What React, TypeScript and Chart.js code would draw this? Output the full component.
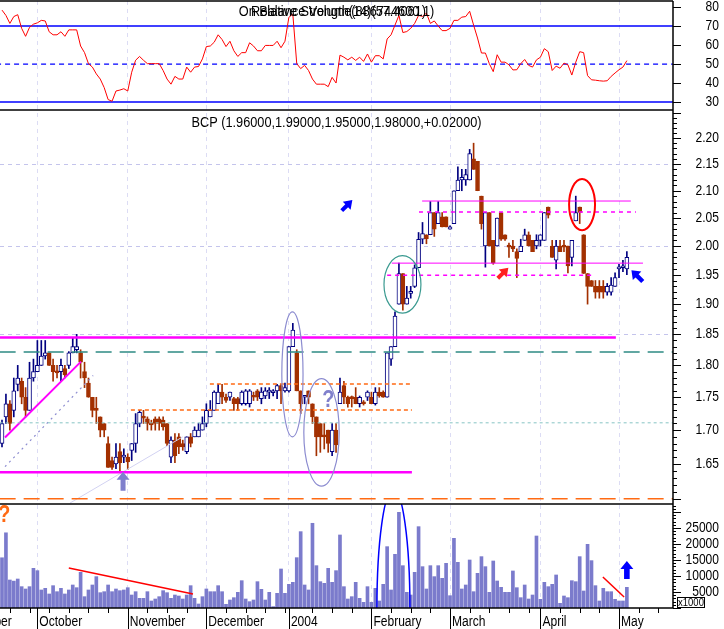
import React, { useEffect, useRef } from "react";
import { Chart, registerables } from "chart.js";
Chart.register(...registerables);

// ---------- data (one entry per trading day, index 0 = late Sept 2003) ----------
const opens = [1.68,1.72,1.74,1.73,1.77,1.775,1.75,1.73,1.78,1.79,
 1.80,1.815,1.82,1.80,1.79,1.79,1.795,1.80,1.82,1.825,
 1.82,1.79,1.772,1.75,1.732,1.72,1.71,1.68,1.655,1.65,
 1.668,1.66,1.66,1.67,1.68,1.71,1.72,1.717,1.71,1.717,
 1.717,1.715,1.71,1.66,1.685,1.69,1.68,1.668,1.69,1.69,
 1.69,1.70,1.71,1.72,1.73,1.74,1.758,1.75,1.75,1.748,
 1.748,1.74,1.74,1.74,1.752,1.76,1.748,1.752,1.758,1.757,
 1.76,1.768,1.76,1.76,1.83,1.82,1.76,1.75,1.76,1.74,
 1.72,1.71,1.692,1.70,1.668,1.70,1.74,1.768,1.75,1.75,
 1.75,1.74,1.742,1.75,1.75,1.74,1.758,1.758,1.75,1.81,
 1.83,1.90,1.952,1.90,1.918,1.93,1.962,2.012,2.02,2.02,
 2.06,2.04,2.052,2.052,2.03,2.04,2.10,2.12,2.12,2.12,
 2.16,2.155,2.09,2.00,2.06,2.01,2.00,2.06,2.02,2.00,
 2.00,1.99,1.99,2.01,2.02,2.01,2.00,2.01,2.01,2.07,
 2.00,1.975,2.00,2.00,2.00,1.98,2.045,2.07,2.02,1.952,
 1.94,1.93,1.93,1.93,1.92,1.92,1.93,1.96,1.962,1.96];
const highs = [1.715,1.755,1.745,1.78,1.80,1.78,1.765,1.805,1.81,1.84,
 1.84,1.84,1.82,1.81,1.80,1.81,1.80,1.822,1.845,1.85,
 1.825,1.805,1.78,1.75,1.75,1.72,1.71,1.69,1.66,1.68,
 1.68,1.672,1.665,1.68,1.725,1.73,1.73,1.72,1.715,1.72,
 1.72,1.72,1.71,1.69,1.695,1.695,1.685,1.69,1.695,1.705,
 1.71,1.72,1.74,1.745,1.76,1.77,1.77,1.755,1.758,1.75,
 1.75,1.76,1.762,1.762,1.758,1.762,1.765,1.765,1.765,1.762,
 1.77,1.77,1.772,1.83,1.868,1.825,1.76,1.752,1.76,1.74,
 1.72,1.71,1.71,1.70,1.71,1.71,1.78,1.775,1.752,1.752,
 1.765,1.752,1.745,1.76,1.758,1.765,1.765,1.76,1.82,1.83,
 1.887,1.97,1.952,1.93,1.93,1.967,2.024,2.042,2.02,2.08,
 2.06,2.08,2.06,2.052,2.036,2.10,2.145,2.14,2.14,2.178,
 2.19,2.155,2.09,2.06,2.06,2.01,2.05,2.06,2.02,2.005,
 2.01,1.995,2.012,2.03,2.025,2.01,2.02,2.02,2.06,2.07,
 2.01,2.01,2.01,2.01,2.00,2.01,2.09,2.07,2.02,1.952,
 1.94,1.94,1.94,1.94,1.935,1.945,1.953,1.968,1.975,1.99];
const lows = [1.675,1.71,1.70,1.72,1.76,1.74,1.72,1.73,1.775,1.79,
 1.80,1.81,1.80,1.775,1.78,1.775,1.78,1.795,1.82,1.82,
 1.78,1.765,1.75,1.72,1.71,1.69,1.69,1.645,1.642,1.643,
 1.64,1.652,1.642,1.655,1.667,1.705,1.71,1.70,1.70,1.70,
 1.70,1.70,1.677,1.652,1.652,1.665,1.67,1.665,1.675,1.69,
 1.69,1.70,1.705,1.72,1.73,1.74,1.74,1.742,1.745,1.73,
 1.73,1.738,1.738,1.735,1.745,1.745,1.74,1.748,1.748,1.752,
 1.748,1.74,1.758,1.758,1.83,1.76,1.725,1.74,1.74,1.71,
 1.662,1.667,1.672,1.667,1.662,1.667,1.74,1.74,1.735,1.735,
 1.74,1.735,1.738,1.745,1.74,1.738,1.75,1.75,1.75,1.80,
 1.83,1.90,1.89,1.90,1.91,1.928,1.962,2.004,2.004,2.02,
 2.017,2.04,2.034,2.034,2.03,2.04,2.10,2.10,2.11,2.12,
 2.14,2.10,2.03,1.963,2.00,1.968,2.00,2.01,2.01,1.98,
 1.99,1.945,1.99,2.01,2.00,1.99,1.995,2.00,2.01,2.05,
 1.98,1.96,1.99,1.99,1.953,1.965,2.045,2.04,1.952,1.90,
 1.93,1.91,1.91,1.91,1.915,1.915,1.93,1.945,1.955,1.95];
const closes = [1.71,1.74,1.71,1.76,1.78,1.75,1.73,1.78,1.79,1.80,
 1.815,1.82,1.80,1.79,1.788,1.80,1.785,1.82,1.83,1.83,
 1.805,1.78,1.75,1.73,1.73,1.70,1.70,1.645,1.645,1.66,
 1.652,1.663,1.653,1.68,1.71,1.727,1.718,1.71,1.708,1.71,
 1.71,1.705,1.68,1.685,1.662,1.675,1.675,1.69,1.68,1.70,
 1.70,1.71,1.73,1.73,1.758,1.758,1.75,1.745,1.758,1.74,
 1.74,1.758,1.76,1.76,1.75,1.75,1.758,1.76,1.76,1.76,
 1.768,1.76,1.765,1.83,1.857,1.76,1.74,1.752,1.75,1.72,
 1.69,1.69,1.69,1.68,1.70,1.678,1.758,1.75,1.74,1.748,
 1.74,1.75,1.74,1.758,1.74,1.758,1.752,1.75,1.82,1.83,
 1.88,1.952,1.90,1.91,1.92,1.962,2.012,2.022,2.013,2.06,
 2.03,2.06,2.034,2.034,2.034,2.10,2.12,2.125,2.13,2.17,
 2.14,2.10,2.04,2.06,2.00,1.97,2.05,2.012,2.012,1.998,
 1.995,1.978,2.00,2.02,2.00,1.99,2.01,2.02,2.06,2.055,
 1.98,2.00,1.99,1.998,1.965,2.01,2.06,2.06,1.952,1.93,
 1.93,1.92,1.92,1.92,1.93,1.932,1.945,1.962,1.963,1.98];
const volumes = [15700,23500,8750,8400,9060,6670,5940,6670,12400,11670,
 5630,6150,4380,6980,5100,6150,4380,5630,7190,6350,
 11150,3540,5630,7190,9800,4790,5100,7190,5100,5940,
 5420,5630,6350,4060,5100,3020,3020,5100,2190,2810,
 3540,5420,4790,3020,4060,3750,2810,4060,6980,3020,
 1250,3540,5940,5100,5100,6980,5100,1150,2500,3230,
 4900,8540,2810,1980,2500,8230,5830,2500,4900,420,
 4580,12190,4580,7400,8020,15730,23860,7190,5630,26470,
 13230,8230,7710,12400,8020,11670,22820,6670,2810,3540,
 8020,3020,1770,6670,1770,6150,2190,7400,19170,5630,
 16770,29900,13230,4900,4060,11150,25420,12920,5940,13230,
 9800,13230,9270,13960,3850,21780,14270,5940,7190,15000,
 5100,10840,16050,12920,4900,14690,8440,6460,4900,4900,
 11570,6350,3230,7190,2810,4060,22500,2710,8020,6670,
 7400,10320,1460,3750,3230,8540,8230,16050,5310,19900,
 14800,6980,2190,6150,5100,5100,2710,2190,2190,6460];
const rsi = [78.4,75.6,71.4,75,76,68.8,64.6,69.3,71,71.7,
 73,72.7,67,65.4,65.4,67,64.6,68,68,68,
 59.5,56,50.2,48.4,44.8,42.1,37.6,31.3,30.4,35.8,
 36.3,37,35.8,45.7,52,54,52,50.2,50.2,50.2,
 50.2,46.6,42.1,39.4,43.5,42.1,42.1,48.4,45.7,48.4,
 48.7,52.7,59.2,59.5,61.5,65.4,62.9,59.2,62,57,
 54,56,56,61.2,59.5,57,57,59.8,59.8,59.8,
 62,58.6,62,74.6,76.3,50.2,47.6,49.3,46.6,42.1,
 39.4,39.4,39.4,38.1,43,40,54.7,53.6,52.2,53.6,
 51.9,53.6,51.4,55.3,51,54.4,54.4,52.7,63.2,65.4,
 70.5,75.6,66.6,67.1,68.8,71.4,75.6,75.1,76.8,71.4,
 72.7,70,67.6,67.6,68.8,73,73,74.7,75,77.8,
 70.5,63.7,55.8,55.8,50.2,46,54.9,51,51,49.6,
 46.9,47,50.2,52.4,49.3,48.4,52.2,53.6,58.1,56.5,
 46.6,48.9,47.8,50.5,49.6,44.2,51,56.5,56,43.9,
 41.7,41.5,41.2,41,41.2,43.5,45.3,47,48.4,51.8];

const monthStarts = [-13, 9, 32, 52, 73, 94, 114, 137, 157];
const monthLabels = ["September", "October", "November", "December", "2004", "February", "March", "April", "May"];
const weekTicks = [2,7,12,17,22,27,37,42,47,57,62,67,72,79,84,89,99,104,109,119,124,129,134,142,147,152,162,167];
const rsiTicks = [30, 40, 50, 60, 70, 80];
const rsiLevels = [70, 50, 30];
const priceLabelTicks = [1.65,1.70,1.75,1.80,1.85,1.90,1.95,2.00,2.05,2.10,2.15,2.20];
const priceGrid = [1.85, 2.00, 2.15];
const volLabelTicks = [5000, 10000, 15000, 20000, 25000];
const priceTitle = "BCP (1.96000,1.99000,1.95000,1.98000,+0.02000)";
const rsiTitleA = "On Balance Volume(886744600.1)";
const rsiTitleB = "Relative Strength(14)(57.4061)";

// ---------- drawn annotations, in data units ----------
const overlayLines = [
  { axis: "yPrice", pts: [[-0.6, 1.8215], [171, 1.8215]], color: "#2e8b84", width: 1.5, dash: [16, 8] },
  { axis: "yPrice", pts: [[-0.6, 1.711], [171, 1.711]], color: "#86c4c4", width: 1, dash: [3, 3] },
  { axis: "yPrice", pts: [[-0.6, 1.600], [171, 1.600]], color: "#ff6a13", width: 1.5, dash: [16, 8] },
  { axis: "yPrice", pts: [[52.9, 1.7707], [104.3, 1.7707]], color: "#ff6a13", width: 1.5, dash: [4, 3] },
  { axis: "yPrice", pts: [[32.8, 1.7305], [104.3, 1.7305]], color: "#ff6a13", width: 1.5, dash: [4, 3] },
  { axis: "yPrice", pts: [[-0.6, 1.845], [156.2, 1.845]], color: "#ff00ff", width: 2.5, dash: [] },
  { axis: "yPrice", pts: [[-0.6, 1.638], [104.3, 1.638]], color: "#ff00ff", width: 2.5, dash: [] },
  { axis: "yPrice", pts: [[0.76, 1.689], [20.1, 1.806]], color: "#ff00ff", width: 2, dash: [] },
  { axis: "yPrice", pts: [[0.76, 1.646], [23.2, 1.784]], color: "#8c8cd0", width: 1.2, dash: [2, 4] },
  { axis: "yPrice", pts: [[17.3, 1.594], [46.0, 1.690]], color: "#d2d2f2", width: 1, dash: [] },
  { axis: "yPrice", pts: [[106.9, 2.081], [160.0, 2.081]], color: "#ff00ff", width: 1, dash: [] },
  { axis: "yPrice", pts: [[99.2, 1.970], [163.1, 1.970]], color: "#ff00ff", width: 1, dash: [] },
  { axis: "yPrice", pts: [[106.1, 2.061], [161.3, 2.061]], color: "#ff00ff", width: 1.5, dash: [4, 4] },
  { axis: "yPrice", pts: [[98.0, 1.949], [150.9, 1.949]], color: "#ff00ff", width: 1.5, dash: [4, 4] },
  { axis: "yVol", pts: [[17.0, 12500], [48.6, 4375]], color: "#ff0000", width: 1.5, dash: [] },
  { axis: "yVol", pts: [[152.9, 9690], [158.3, 3440]], color: "#ff0000", width: 1.5, dash: [] },
];
const ellipses = [
  { axis: "yPrice", x1: 71.2, x2: 76.6, y1: 1.887, y2: 1.69, color: "#8c8cd0", width: 1.2 },
  { axis: "yPrice", x1: 76.8, x2: 85.8, y1: 1.779, y2: 1.618, color: "#8c8cd0", width: 1.2 },
  { axis: "yPrice", x1: 97.2, x2: 106.6, y1: 1.983, y2: 1.885, color: "#3a9a90", width: 1.2 },
  { axis: "yPrice", x1: 144.3, x2: 150.9, y1: 2.122, y2: 2.028, color: "#ff0000", width: 2 },
  { axis: "yVol", x1: 95.4, x2: 103.8, y1: 37190, y2: -37190, color: "#0000ff", width: 1.5 },
];
const arrows = [
  { axis: "yPrice", x: 87.8, y: 2.073, angle: -45, color: "#0000ff", L: 15, sw: 2, hw: 5.5, hl: 8 },
  { axis: "yPrice", x: 161.6, y: 1.948, angle: -135, color: "#0000ff", L: 16, sw: 2.2, hw: 6, hl: 8 },
  { axis: "yPrice", x: 127.5, y: 1.953, angle: -45, color: "#ff2020", L: 15, sw: 2, hw: 5.5, hl: 8 },
  { axis: "yPrice", x: 30.8, y: 1.625, angle: -90, color: "#7f7fcc", L: 19, sw: 2.5, hw: 6.5, hl: 8 },
  { axis: "yVol", x: 159, y: 11875, angle: -90, color: "#0000ff", L: 18, sw: 2.8, hw: 6.5, hl: 8 },
];
const marks = [
  { axis: "yPrice", x: 83, y: 1.745, color: "#8080cc" },
  { axis: "yVol", x: 0.6, y: 29000, color: "#ff6a13" },
];

const X_MIN = -0.51;
const X_MAX = 170.74;
const NAVY = "#000080";
const RUST = "#a33000";
const FONT = '"Liberation Sans", Arial, sans-serif';
const SX = 0.86;

function txt(ctx: CanvasRenderingContext2D, s: string, x: number, y: number, align: CanvasTextAlign, size: number, color: string, bold = false, sx = SX) {
  ctx.save();
  ctx.font = `${bold ? "bold " : ""}${size}px ${FONT}`;
  ctx.fillStyle = color;
  ctx.textBaseline = "middle";
  ctx.textAlign = align;
  ctx.translate(x, y);
  ctx.scale(sx, 1);
  ctx.fillText(s, 0, 0);
  ctx.restore();
}

function drawArrow(ctx: CanvasRenderingContext2D, cx: number, cy: number, a: any) {
  const { L, sw, hw, hl } = a;
  ctx.save();
  ctx.translate(cx, cy);
  ctx.rotate((a.angle * Math.PI) / 180);
  ctx.beginPath();
  ctx.moveTo(-L / 2, -sw);
  ctx.lineTo(L / 2 - hl, -sw);
  ctx.lineTo(L / 2 - hl, -hw);
  ctx.lineTo(L / 2, 0);
  ctx.lineTo(L / 2 - hl, hw);
  ctx.lineTo(L / 2 - hl, sw);
  ctx.lineTo(-L / 2, sw);
  ctx.closePath();
  ctx.fillStyle = a.color;
  ctx.fill();
  ctx.restore();
}

const decor = {
  id: "decor",
  afterDatasetsDraw(chart: any) {
    const { ctx, chartArea: ca, scales } = chart;
    const xs = scales.x;
    for (const e of ellipses) {
      const ys = scales[e.axis];
      const x1 = xs.getPixelForValue(e.x1), x2 = xs.getPixelForValue(e.x2);
      const y1 = ys.getPixelForValue(e.y1), y2 = ys.getPixelForValue(e.y2);
      ctx.save();
      ctx.beginPath();
      ctx.rect(ca.left, ys.top, ca.right - ca.left, ys.bottom - ys.top);
      ctx.clip();
      ctx.beginPath();
      ctx.ellipse((x1 + x2) / 2, (y1 + y2) / 2, Math.abs(x2 - x1) / 2, Math.abs(y2 - y1) / 2, 0, 0, Math.PI * 2);
      ctx.strokeStyle = e.color;
      ctx.lineWidth = e.width;
      ctx.stroke();
      ctx.restore();
    }
    for (const a of arrows) {
      const ys = scales[a.axis];
      drawArrow(ctx, xs.getPixelForValue(a.x), ys.getPixelForValue(a.y), a);
    }
    for (const m of marks) {
      const ys = scales[m.axis];
      txt(ctx, "?", xs.getPixelForValue(m.x), ys.getPixelForValue(m.y), "center", 23, m.color, true);
    }
  },
  afterDraw(chart: any) {
    const { ctx, chartArea: ca, scales } = chart;
    const R = ca.right;
    const xs = scales.x;
    const H = chart.height;
    const line = (x1: number, y1: number, x2: number, y2: number) => {
      ctx.beginPath();
      ctx.moveTo(x1, y1);
      ctx.lineTo(x2, y2);
      ctx.stroke();
    };
    ctx.save();
    ctx.strokeStyle = "#000";
    ctx.lineWidth = 1.5;
    for (const y of [scales.yRsi.top, scales.yRsi.bottom, scales.yPrice.bottom, scales.yVol.bottom]) line(0, y, R, y);
    line(R, ca.top, R, ca.bottom);
    ctx.lineWidth = 1;
    const yTick = (ys: any, v: number, len: number) => {
      const y = Math.round(ys.getPixelForValue(v)) + 0.5;
      line(R, y, R + len, y);
    };
    for (const v of rsiTicks) {
      yTick(scales.yRsi, v, 8);
      txt(ctx, String(v), 719, scales.yRsi.getPixelForValue(v), "right", 14, "#000");
    }
    for (let k = 160; k <= 225; k++) yTick(scales.yPrice, k / 100, k % 5 === 0 ? 8 : 4);
    for (const v of priceLabelTicks) txt(ctx, v.toFixed(2), 719, scales.yPrice.getPixelForValue(v), "right", 14, "#000");
    for (let k = 0; k <= 32; k++) yTick(scales.yVol, k * 1000, k % 5 === 0 ? 8 : 3);
    for (const v of volLabelTicks) txt(ctx, String(v), 719, scales.yVol.getPixelForValue(v), "right", 14, "#000");
    const by = scales.yVol.bottom - 11;
    ctx.fillStyle = "#fff";
    ctx.fillRect(R + 4, by, 27, 10);
    ctx.strokeRect(R + 4.5, by + 0.5, 27, 10);
    txt(ctx, "x1000", R + 18, by + 5.5, "center", 11, "#000");
    for (const w of weekTicks) {
      const x = Math.round(xs.getPixelForValue(w)) + 0.5;
      line(x, ca.bottom, x, ca.bottom + 5);
    }
    monthStarts.forEach((m, i) => {
      const px = xs.getPixelForValue(m);
      if (px >= 0 && px <= R) {
        const x = Math.round(px) + 0.5;
        line(x, ca.bottom, x, H);
      }
      txt(ctx, monthLabels[i], px + 2, ca.bottom + 14, "left", 14, "#000");
    });
    const cx = (ca.left + R) / 2;
    txt(ctx, priceTitle, cx, scales.yPrice.top + 13, "center", 14, "#000", false, 0.91);
    txt(ctx, rsiTitleA, cx, scales.yRsi.top + 11, "center", 14, "#000", false, 0.91);
    txt(ctx, rsiTitleB, cx + 2, scales.yRsi.top + 11, "center", 14, "#000", false, 0.91);
    ctx.restore();
  },
};

export default function App() {
  const ref = useRef<HTMLCanvasElement>(null);
  useEffect(() => {
    document.body.style.margin = "0";
    const idx = opens.map((_, i) => i);
    const up = idx.map((i) => closes[i] >= opens[i]);
    const datasets: any[] = [];
    datasets.push({
      type: "line", label: "RSI", yAxisID: "yRsi",
      data: idx.map((i) => ({ x: i, y: rsi[i] })),
      borderColor: "#ff0000", borderWidth: 1, pointRadius: 0, tension: 0, order: 0,
    });
    for (const lv of rsiLevels) {
      datasets.push({
        type: "line", yAxisID: "yRsi",
        data: [{ x: X_MIN - 1, y: lv }, { x: X_MAX + 1, y: lv }],
        borderColor: "#0000ff", borderWidth: lv === 50 ? 1.2 : 1.4, borderDash: lv === 50 ? [5, 4] : [],
        pointRadius: 0, order: 5,
      });
    }
    for (const o of overlayLines) {
      datasets.push({
        type: "line", yAxisID: o.axis,
        data: o.pts.map(([x, y]) => ({ x, y })),
        borderColor: o.color, borderWidth: o.width, borderDash: o.dash,
        pointRadius: 0, tension: 0, order: 1,
      });
    }
    datasets.push({
      type: "bar", label: "wick", yAxisID: "yPrice",
      data: idx.map((i) => ({ x: i, y: [lows[i], highs[i]] })),
      backgroundColor: idx.map((i) => (up[i] ? NAVY : RUST)),
      barThickness: 1, grouped: false, order: 4,
    });
    datasets.push({
      type: "bar", label: "body", yAxisID: "yPrice",
      data: idx.map((i) => ({ x: i, y: [opens[i], closes[i]] })),
      backgroundColor: idx.map((i) => (up[i] ? "#ffffff" : RUST)),
      borderColor: idx.map((i) => (up[i] ? NAVY : RUST)),
      borderWidth: 1, borderSkipped: false, minBarLength: 2,
      barThickness: 4, grouped: false, order: 3,
    });
    datasets.push({
      type: "bar", label: "volume", yAxisID: "yVol",
      data: idx.map((i) => ({ x: i, y: volumes[i] })),
      backgroundColor: "#7b7bcc", barThickness: 3, grouped: false, order: 3,
    });

    const chart = new Chart(ref.current as HTMLCanvasElement, {
      type: "bar",
      data: { datasets },
      plugins: [decor],
      options: {
        animation: false,
        responsive: false,
        events: [],
        layout: { padding: { top: 1, left: 0, right: 0, bottom: 0 } },
        plugins: { legend: { display: false }, tooltip: { enabled: false } },
        scales: {
          x: {
            type: "linear", min: X_MIN, max: X_MAX, bounds: "data", offset: false,
            afterBuildTicks: (s: any) => { s.ticks = monthStarts.filter((v) => v > X_MIN).map((v) => ({ value: v })); },
            ticks: { display: false },
            grid: { color: "#dcdcf4", drawTicks: false, offset: false, lineWidth: 1 },
            border: { display: false, dash: [4, 4] },
            afterFit: (s: any) => { s.height = 21; },
          },
          yRsi: {
            type: "linear", position: "right", stack: "main", stackWeight: 109,
            min: 25.8, max: 83.2, bounds: "data",
            ticks: { display: false }, grid: { display: false }, border: { display: false },
            afterFit: (s: any) => { s.width = 51; },
          },
          yPrice: {
            type: "logarithmic", position: "right", stack: "main", stackWeight: 394,
            min: 1.5927, max: 2.2551, bounds: "data",
            afterBuildTicks: (s: any) => { s.ticks = priceGrid.map((v) => ({ value: v })); },
            ticks: { display: false },
            grid: { color: "#c4c4ec", drawTicks: false, lineWidth: 1 },
            border: { display: false, dash: [4, 4] },
            afterFit: (s: any) => { s.width = 51; },
          },
          yVol: {
            type: "linear", position: "right", stack: "main", stackWeight: 104,
            min: 0, max: 32500, bounds: "data",
            ticks: { display: false }, grid: { display: false }, border: { display: false },
            afterFit: (s: any) => { s.width = 51; },
          },
        },
      } as any,
    } as any);
    return () => chart.destroy();
  }, []);
  return (
    <div style={{ width: 724, height: 629 }}>
      <canvas ref={ref} width={724} height={629} style={{ display: "block" }} />
    </div>
  );
}
